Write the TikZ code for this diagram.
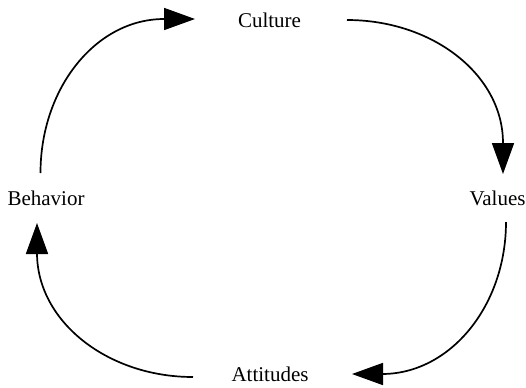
\documentclass[tikz,border=0pt]{standalone}
\usepackage{fontspec}
\setmainfont{Liberation Serif}
\usetikzlibrary{arrows.meta}
\begin{document}
\begin{tikzpicture}[x=0.5pt,y=-0.5pt,
  label/.style={anchor=base,inner sep=0pt,font=\fontsize{10.5}{12}\selectfont},
  cycle/.style={line width=0.85pt,-{Triangle[length=15.5pt,width=11pt]}}]
\useasboundingbox (0,0) rectangle (526,387);
% stage labels
\node[label] (culture) at (269.5,27) {Culture};
\node[label] (values) at (497.5,205) {Values};
\node[label] (attitudes) at (270,381) {Attitudes};
\node[label] (behavior) at (46,205) {Behavior};
% arc start points, arrow bases and arrow tips
\coordinate (bA) at (40.5,173);
\coordinate (cB) at (164,19);
\coordinate (cT) at (195,19);
\coordinate (cA) at (347,20);
\coordinate (vB) at (503,143);
\coordinate (vT) at (503,174);
\coordinate (vA) at (506,222);
\coordinate (aB) at (382,374);
\coordinate (aT) at (352,374);
\coordinate (aA) at (193,377);
\coordinate (bB) at (37,253);
\coordinate (bT) at (37,223);
% the four arcs of the cycle
\draw[cycle] (bA) .. controls (40.5,88) and (96,19) .. (cB) -- (cT);
\draw[cycle] (cA) .. controls (433,20) and (503,75) .. (vB) -- (vT);
\draw[cycle] (vA) .. controls (506,306) and (450,374) .. (aB) -- (aT);
\draw[cycle] (aA) .. controls (107,377) and (37,321) .. (bB) -- (bT);
\end{tikzpicture}
\end{document}
